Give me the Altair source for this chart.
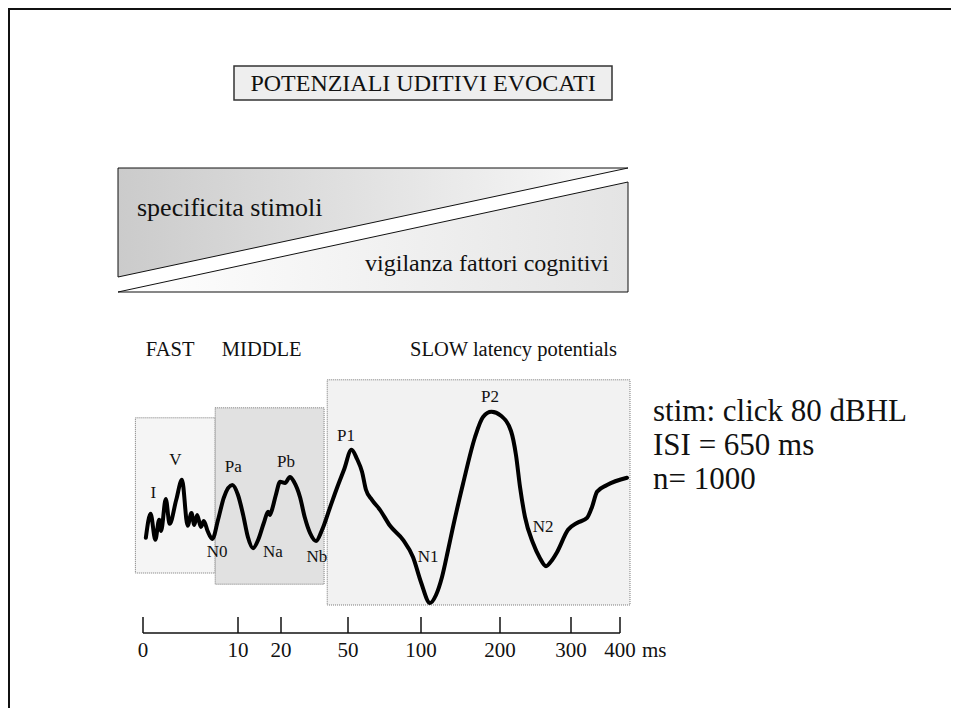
import altair as alt
import pandas as pd

W, H = 943, 700          # drawing area (page margin is 8 px)
FONT = "Liberation Serif"

# ---------------- data ----------------
# Waveform: latency (ms) and amplitude (arbitrary units)
WAVE_MS = [0.3, 0.8, 1.3, 1.7, 1.9, 2.4, 2.8, 3.5, 4.1, 4.7, 5.1, 5.4, 5.7, 6.1, 6.4, 6.8,
           7.3, 7.9, 8.5, 9.4, 10.0, 11.2, 12.3, 13.5, 14.7, 16.0, 17.0, 17.4, 17.9, 18.8,
           19.8, 21.8, 24.0, 25.8, 28.5, 30.7, 33.0, 35.7, 38.4, 41.9, 45.1, 48.2, 52.4,
           56.2, 59.6, 62.3, 66.4, 71.9, 78.8, 87.7, 94.5, 100.0, 111.4, 119.0, 126.6,
           134.2, 140.5, 153.2, 168.4, 178.5, 189.2, 201.4, 215.5, 222.5, 228.2, 235.2,
           246.5, 256.3, 264.8, 273.2, 280.3, 295.8, 312.2, 332.7, 342.9, 353.1, 373.5, 414.3]
WAVE_AMP = [0.08, 0.68, 0.03, 0.53, 0.25, 1.05, 0.43, 1.03, 1.53, 0.38, 0.70, 0.40, 0.65, 0.35,
            0.50, 0.25, 0.05, 0.53, 1.08, 1.40, 1.15, 0.65, 0.10, -0.18, 0.03, 0.45, 0.73,
            0.65, 0.78, 1.15, 1.48, 1.45, 1.60, 1.48, 1.10, 0.58, 0.20, 0.00, 0.28, 0.83,
            1.33, 1.78, 2.28, 2.05, 1.73, 1.28, 1.03, 0.78, 0.38, 0.03, -0.40, -1.03, -1.55,
            -1.35, -0.90, -0.23, 0.35, 1.43, 2.60, 3.10, 3.23, 3.13, 2.75, 2.15, 1.35, 0.60,
            -0.05, -0.43, -0.63, -0.48, -0.28, 0.28, 0.45, 0.58, 0.85, 1.23, 1.40, 1.58]

PEAK_NAMES = ["I", "V", "N0", "Pa", "Na", "Pb", "Nb", "P1", "N1", "P2", "N2"]
PEAK_MS = [1.1, 3.4, 7.8, 9.5, 18.1, 22.2, 36.1, 49.1, 108.9, 187.3, 260.6]
PEAK_AMP = [1.20, 2.03, -0.28, 1.85, -0.28, 1.98, -0.40, 2.63, -0.40, 3.60, 0.35]

TICK_MS = [0, 10, 20, 50, 100, 200, 300, 400]
TICK_LABELS = ["0", "10", "20", "50", "100", "200", "300", "400"]

# latency bands (ms / amplitude extent)
BAND_NAMES = ["FAST", "MIDDLE", "SLOW"]
BAND_START = [-0.8, 7.6, 40.7]
BAND_END = [7.6, 39.3, 420.4]
BAND_TOP = [3.08, 3.33, 4.03]
BAND_BOTTOM = [-0.80, -1.08, -1.60]
BAND_FILL = ["#f5f5f5", "#e1e1e1", "#f2f2f2"]

HEADERS = ["FAST", "MIDDLE", "SLOW  latency potentials"]
HEADER_MS = [0.3, 8.3, 92.5]
HEADER_AMP = [4.78, 4.78, 4.78]

STIM_LINES = ["stim: click 80 dBHL", "ISI = 650 ms", "n= 1000"]

TITLE = "POTENZIALI UDITIVI EVOCATI"
TRI_LABELS = ["specificita stimoli", "vigilanza fattori cognitivi"]

# ---------------- scales ----------------
def px_x(f):
    return alt.X(f, type="quantitative", axis=None,
                 scale=alt.Scale(domain=[8, 8 + W], range=[0, W], nice=False, zero=False))

def px_y(f):
    return alt.Y(f, type="quantitative", axis=None,
                 scale=alt.Scale(domain=[8, 8 + H], range=[0, H], nice=False, zero=False))

def t_x(f):
    return alt.X(f, type="quantitative", axis=None,
                 scale=alt.Scale(domain=TICK_MS, range=[135, 230, 273, 340, 413, 492, 563, 612],
                                 nice=False, zero=False))

def a_y(f):
    return alt.Y(f, type="quantitative", axis=None,
                 scale=alt.Scale(domain=[0, 1], range=[533, 493], nice=False, zero=False))

layers = []

# frame
frame = pd.DataFrame({"x": [8, 9], "x2": [958, 9], "y": [9, 8], "y2": [9, 708]})
layers.append(alt.Chart(frame).mark_rule(color="#111", strokeWidth=2).encode(
    x=px_x("x"), x2="x2", y=px_y("y"), y2="y2"))

# title box
tbox = pd.DataFrame({"x": [234], "x2": [612], "y": [66], "y2": [100]})
layers.append(alt.Chart(tbox).mark_rect(fill="#eeeeee", stroke="#333", strokeWidth=1.5).encode(
    x=px_x("x"), x2="x2", y=px_y("y"), y2="y2"))
layers.append(alt.Chart(pd.DataFrame({"t": [TITLE], "x": [423], "y": [84]})).mark_text(
    font=FONT, fontSize=24, color="#111", baseline="middle", align="center").encode(
    x=px_x("x"), y=px_y("y"), text="t:N"))

# triangles
grad_up = alt.Gradient(gradient="linear", x1=0, x2=1, y1=0, y2=0,
                       stops=[alt.GradientStop(offset=0, color="#cbcbcb"),
                              alt.GradientStop(offset=1, color="#fafafa")])
grad_dn = alt.Gradient(gradient="linear", x1=0, x2=1, y1=0, y2=0,
                       stops=[alt.GradientStop(offset=0, color="#ffffff"),
                              alt.GradientStop(offset=1, color="#e4e4e4")])
tri_up = pd.DataFrame({"x": [118, 628], "y": [168, 168], "y2": [277, 168]})
tri_dn = pd.DataFrame({"x": [118, 628], "y": [292, 182], "y2": [292, 292]})
layers.append(alt.Chart(tri_up).mark_area(fill=grad_up, stroke="#111", strokeWidth=1,
                                          orient="vertical").encode(
    x=px_x("x"), y=px_y("y"), y2="y2"))
layers.append(alt.Chart(tri_dn).mark_area(fill=grad_dn, stroke="#111", strokeWidth=1,
                                          orient="vertical").encode(
    x=px_x("x"), y=px_y("y"), y2="y2"))
layers.append(alt.Chart(pd.DataFrame({"t": [TRI_LABELS[0]], "x": [137], "y": [208]})).mark_text(
    font=FONT, fontSize=26, color="#111", baseline="middle", align="left").encode(
    x=px_x("x"), y=px_y("y"), text="t:N"))
layers.append(alt.Chart(pd.DataFrame({"t": [TRI_LABELS[1]], "x": [609], "y": [264]})).mark_text(
    font=FONT, fontSize=24, color="#111", baseline="middle", align="right").encode(
    x=px_x("x"), y=px_y("y"), text="t:N"))

# headers
hdr = pd.DataFrame({"t": HEADERS, "ms": HEADER_MS, "amp": HEADER_AMP})
layers.append(alt.Chart(hdr).mark_text(font=FONT, fontSize=20.5, color="#111",
                                       baseline="middle", align="left").encode(
    x=t_x("ms"), y=a_y("amp"), text="t:N"))

# latency bands
for i in [0, 2, 1]:
    b = pd.DataFrame({"band": [BAND_NAMES[i]], "s": [BAND_START[i]], "e": [BAND_END[i]],
                      "top": [BAND_TOP[i]], "bot": [BAND_BOTTOM[i]]})
    layers.append(alt.Chart(b).mark_rect(fill=BAND_FILL[i], stroke="#777", strokeWidth=1,
                                         strokeDash=[1, 1]).encode(
        x=t_x("s"), x2="e", y=a_y("top"), y2="bot"))

# waveform
wave = pd.DataFrame({"ms": WAVE_MS, "amp": WAVE_AMP})
layers.append(alt.Chart(wave).mark_line(color="black", strokeWidth=4, interpolate="monotone",
                                        strokeJoin="round", strokeCap="round").encode(
    x=t_x("ms"), y=a_y("amp")))

peaks = pd.DataFrame({"name": PEAK_NAMES, "ms": PEAK_MS, "amp": PEAK_AMP})
layers.append(alt.Chart(peaks).mark_text(font=FONT, fontSize=17, color="#111",
                                         baseline="middle", align="center").encode(
    x=t_x("ms"), y=a_y("amp"), text="name:N"))

# time axis
ticks = pd.DataFrame({"ms": TICK_MS, "lab": TICK_LABELS})
layers.append(alt.Chart(pd.DataFrame({"s": [TICK_MS[0]], "e": [TICK_MS[-1]]})).mark_rule(
    color="#111", strokeWidth=1.5).encode(x=t_x("s"), x2="e", y=alt.value(625)))
layers.append(alt.Chart(ticks).mark_rule(color="#111", strokeWidth=1.5).encode(
    x=t_x("ms"), y=alt.value(609), y2=alt.value(625)))
layers.append(alt.Chart(ticks).mark_text(font=FONT, fontSize=21, color="#111",
                                         baseline="middle", align="center").encode(
    x=t_x("ms"), y=alt.value(643), text="lab:N"))
layers.append(alt.Chart(pd.DataFrame({"ms": [TICK_MS[-1]], "u": ["ms"]})).mark_text(
    font=FONT, fontSize=21, color="#111", baseline="middle", align="left", dx=22).encode(
    x=t_x("ms"), y=alt.value(643), text="u:N"))

# stimulus info
stim = pd.DataFrame({"t": STIM_LINES, "x": [653] * 3, "y": [412, 446, 480]})
layers.append(alt.Chart(stim).mark_text(font=FONT, fontSize=31, color="#111",
                                        baseline="middle", align="left").encode(
    x=px_x("x"), y=px_y("y"), text="t:N"))

chart = alt.layer(*layers).resolve_scale(x="independent", y="independent").properties(
    width=W, height=H, autosize="none", padding=0
).configure_view(stroke=None)

chart.save("out.html", embed_options={"renderer": "svg", "actions": False})
